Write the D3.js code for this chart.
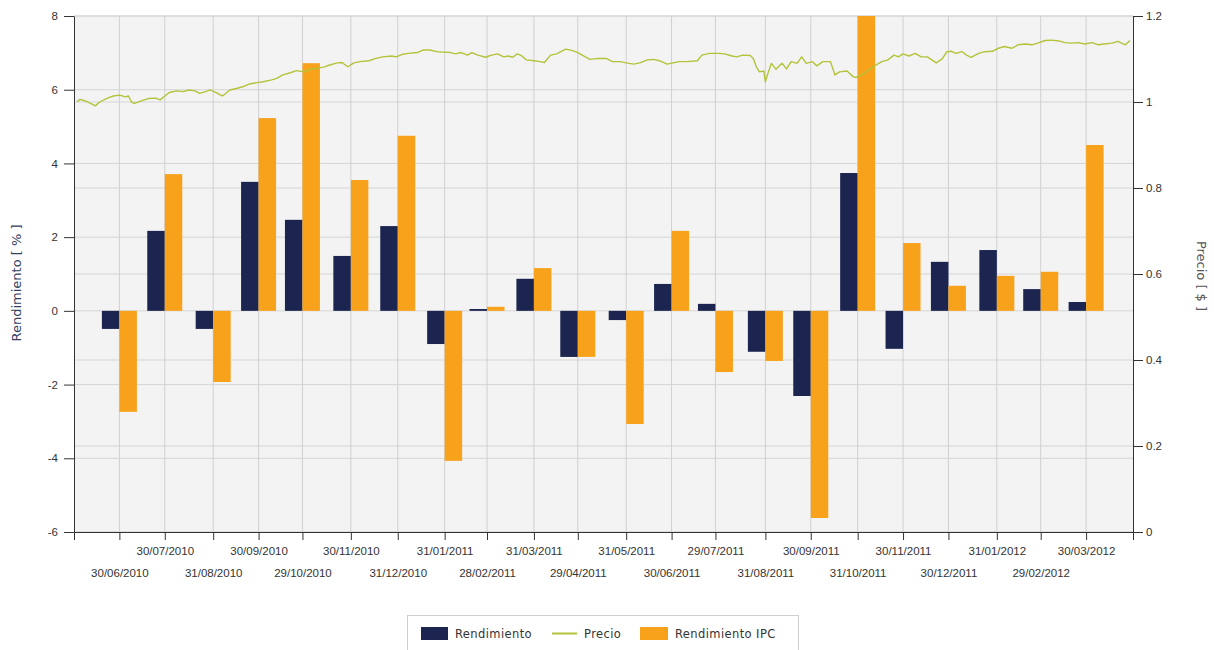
<!DOCTYPE html>
<html>
<head>
<meta charset="utf-8">
<script src="https://cdn.jsdelivr.net/npm/d3@7"></script>
<style>
  body { margin: 0; background: #fff; }
</style>
</head>
<body>
<div id="chart"></div>
<script>
// month-end dates of the bars / x ticks
var fechas = ["30/06/2010", "30/07/2010", "31/08/2010", "30/09/2010", "29/10/2010", "30/11/2010",
  "31/12/2010", "31/01/2011", "28/02/2011", "31/03/2011", "29/04/2011", "31/05/2011",
  "30/06/2011", "29/07/2011", "31/08/2011", "30/09/2011", "31/10/2011", "30/11/2011",
  "30/12/2011", "31/01/2012", "29/02/2012", "30/03/2012"];

var rendimiento = [-0.49, 2.17, -0.49, 3.50, 2.47, 1.49, 2.30, -0.90, 0.05, 0.87, -1.25, -0.25,
  0.73, 0.19, -1.11, -2.31, 3.74, -1.03, 1.33, 1.65, 0.59, 0.24];

var rendimientoIPC = [-2.74, 3.71, -1.93, 5.23, 6.72, 3.55, 4.75, -4.07, 0.11, 1.16, -1.25, -3.07,
  2.17, -1.66, -1.36, -5.62, 8.40, 1.84, 0.68, 0.95, 1.06, 4.50];

var precio = [
  ["2010-06-02", 1.001], ["2010-06-04", 1.006], ["2010-06-07", 1.003], ["2010-06-11", 0.997], ["2010-06-14", 0.991],
  ["2010-06-17", 1.000], ["2010-06-22", 1.009], ["2010-06-26", 1.014], ["2010-06-30", 1.016], ["2010-07-04", 1.012],
  ["2010-07-06", 1.014], ["2010-07-08", 1.000], ["2010-07-10", 0.997], ["2010-07-15", 1.003], ["2010-07-19", 1.008],
  ["2010-07-24", 1.009], ["2010-07-27", 1.005], ["2010-07-30", 1.014], ["2010-08-02", 1.022], ["2010-08-07", 1.026],
  ["2010-08-11", 1.024], ["2010-08-15", 1.028], ["2010-08-19", 1.026], ["2010-08-22", 1.020], ["2010-08-26", 1.024],
  ["2010-08-29", 1.028], ["2010-09-02", 1.022], ["2010-09-06", 1.014], ["2010-09-08", 1.019], ["2010-09-11", 1.028],
  ["2010-09-16", 1.032], ["2010-09-20", 1.036], ["2010-09-24", 1.042], ["2010-09-29", 1.045], ["2010-10-03", 1.047],
  ["2010-10-08", 1.051], ["2010-10-12", 1.055], ["2010-10-16", 1.063], ["2010-10-21", 1.068], ["2010-10-25", 1.073],
  ["2010-10-30", 1.070], ["2010-11-03", 1.076], ["2010-11-12", 1.081], ["2010-11-16", 1.086], ["2010-11-21", 1.091],
  ["2010-11-24", 1.092], ["2010-11-28", 1.082], ["2010-12-02", 1.091], ["2010-12-06", 1.094], ["2010-12-12", 1.096],
  ["2010-12-16", 1.101], ["2010-12-21", 1.105], ["2010-12-27", 1.107], ["2010-12-30", 1.105], ["2011-01-03", 1.111],
  ["2011-01-07", 1.113], ["2011-01-13", 1.115], ["2011-01-17", 1.121], ["2011-01-21", 1.121], ["2011-01-26", 1.117],
  ["2011-01-30", 1.116], ["2011-02-04", 1.115], ["2011-02-07", 1.112], ["2011-02-11", 1.115], ["2011-02-15", 1.109],
  ["2011-02-18", 1.115], ["2011-02-22", 1.109], ["2011-02-27", 1.104], ["2011-03-03", 1.109], ["2011-03-07", 1.112],
  ["2011-03-11", 1.105], ["2011-03-14", 1.107], ["2011-03-17", 1.104], ["2011-03-20", 1.112], ["2011-03-23", 1.107],
  ["2011-03-26", 1.098], ["2011-03-31", 1.096], ["2011-04-04", 1.094], ["2011-04-07", 1.092], ["2011-04-11", 1.109],
  ["2011-04-15", 1.112], ["2011-04-21", 1.123], ["2011-04-25", 1.120], ["2011-04-29", 1.115], ["2011-05-04", 1.105],
  ["2011-05-07", 1.099], ["2011-05-11", 1.101], ["2011-05-14", 1.101], ["2011-05-18", 1.101], ["2011-05-22", 1.094],
  ["2011-05-27", 1.094], ["2011-05-31", 1.091], ["2011-06-05", 1.088], ["2011-06-09", 1.091], ["2011-06-14", 1.098],
  ["2011-06-18", 1.099], ["2011-06-22", 1.096], ["2011-06-27", 1.088], ["2011-07-01", 1.091], ["2011-07-05", 1.094],
  ["2011-07-10", 1.094], ["2011-07-17", 1.096], ["2011-07-20", 1.109], ["2011-07-25", 1.113], ["2011-07-31", 1.113],
  ["2011-08-04", 1.112], ["2011-08-09", 1.107], ["2011-08-12", 1.105], ["2011-08-16", 1.109], ["2011-08-21", 1.108],
  ["2011-08-23", 1.101], ["2011-08-25", 1.082], ["2011-08-27", 1.070], ["2011-08-30", 1.072], ["2011-08-31", 1.047],
  ["2011-09-02", 1.070], ["2011-09-04", 1.090], ["2011-09-07", 1.076], ["2011-09-11", 1.090], ["2011-09-14", 1.077],
  ["2011-09-17", 1.094], ["2011-09-21", 1.090], ["2011-09-24", 1.105], ["2011-09-27", 1.090], ["2011-10-01", 1.094],
  ["2011-10-04", 1.084], ["2011-10-08", 1.094], ["2011-10-13", 1.094], ["2011-10-16", 1.063], ["2011-10-19", 1.070],
  ["2011-10-24", 1.072], ["2011-10-28", 1.059], ["2011-10-30", 1.057], ["2011-11-05", 1.068], ["2011-11-11", 1.084],
  ["2011-11-16", 1.094], ["2011-11-20", 1.098], ["2011-11-24", 1.109], ["2011-11-27", 1.105], ["2011-11-30", 1.112],
  ["2011-12-04", 1.107], ["2011-12-08", 1.113], ["2011-12-12", 1.105], ["2011-12-16", 1.105], ["2011-12-19", 1.098],
  ["2011-12-22", 1.091], ["2011-12-26", 1.101], ["2011-12-29", 1.117], ["2012-01-01", 1.118], ["2012-01-04", 1.113],
  ["2012-01-08", 1.117], ["2012-01-11", 1.109], ["2012-01-14", 1.104], ["2012-01-19", 1.113], ["2012-01-23", 1.117],
  ["2012-01-28", 1.118], ["2012-02-01", 1.125], ["2012-02-05", 1.129], ["2012-02-10", 1.125], ["2012-02-14", 1.133],
  ["2012-02-19", 1.135], ["2012-02-23", 1.133], ["2012-02-27", 1.137], ["2012-03-03", 1.143], ["2012-03-07", 1.144],
  ["2012-03-12", 1.142], ["2012-03-16", 1.138], ["2012-03-20", 1.137], ["2012-03-25", 1.138], ["2012-03-29", 1.135],
  ["2012-04-03", 1.138], ["2012-04-07", 1.133], ["2012-04-11", 1.135], ["2012-04-16", 1.137], ["2012-04-20", 1.141],
  ["2012-04-25", 1.133], ["2012-04-28", 1.143]
];

var ticksRend = [-6, -4, -2, 0, 2, 4, 6, 8];
var ticksPrecio = [0, 0.2, 0.4, 0.6, 0.8, 1, 1.2];
var rangoFechas = ["2010-05-31", "2012-04-30"];

var colRend = "#1b2550", colIPC = "#f8a21c", colPrecio = "#b4c33a";

var margin = { top: 16, right: 81, bottom: 118, left: 74 },
  width = 1214 - margin.left - margin.right,
  height = 650 - margin.top - margin.bottom;

var svg = d3.select("#chart")
  .append("svg")
  .attr("width", 1214)
  .attr("height", 650)
  .style("font-family", "'Liberation Sans', Arial, sans-serif");

var g = svg.append("g")
  .attr("transform", "translate(" + margin.left + "," + margin.top + ")");

var parseDMY = d3.utcParse("%d/%m/%Y"),
  parseISO = d3.utcParse("%Y-%m-%d");

var fechasD = fechas.map(parseDMY);

var x = d3.scaleUtc()
  .domain(rangoFechas.map(parseISO))
  .range([0, width]);
var yL = d3.scaleLinear().domain([-6, 8]).range([height, 0]);
var yR = d3.scaleLinear().domain([0, 1.2]).range([height, 0]);

// plot background
g.append("rect")
  .attr("width", width)
  .attr("height", height)
  .attr("fill", "#f3f3f3");

// grid lines
g.selectAll(".gl").data(ticksRend).enter().append("line")
  .attr("x1", 0).attr("x2", width)
  .attr("y1", function (d) { return yL(d); })
  .attr("y2", function (d) { return yL(d); })
  .attr("stroke", "#d5d5d5");
g.selectAll(".gr").data(ticksPrecio).enter().append("line")
  .attr("x1", 0).attr("x2", width)
  .attr("y1", function (d) { return yR(d); })
  .attr("y2", function (d) { return yR(d); })
  .attr("stroke", "#d5d5d5");
g.selectAll(".gv").data(fechasD).enter().append("line")
  .attr("x1", function (d) { return x(d); })
  .attr("x2", function (d) { return x(d); })
  .attr("y1", 0).attr("y2", height)
  .attr("stroke", "#d0d0d0");

svg.append("clipPath").attr("id", "clip")
  .append("rect").attr("width", width).attr("height", height);

var plot = g.append("g").attr("clip-path", "url(#clip)");

var barW = 17.5;

plot.selectAll(".rend").data(rendimiento).enter().append("rect")
  .attr("x", function (d, i) { return x(fechasD[i]) - barW; })
  .attr("width", barW)
  .attr("y", function (d) { return yL(Math.max(0, d)); })
  .attr("height", function (d) { return Math.abs(yL(d) - yL(0)); })
  .attr("fill", colRend);

plot.selectAll(".ipc").data(rendimientoIPC).enter().append("rect")
  .attr("x", function (d, i) { return x(fechasD[i]); })
  .attr("width", barW)
  .attr("y", function (d) { return yL(Math.max(0, d)); })
  .attr("height", function (d) { return Math.abs(yL(d) - yL(0)); })
  .attr("fill", colIPC);

var line = d3.line()
  .x(function (d) { return x(parseISO(d[0])); })
  .y(function (d) { return yR(d[1]); });

plot.append("path")
  .datum(precio)
  .attr("d", line)
  .attr("fill", "none")
  .attr("stroke", colPrecio)
  .attr("stroke-width", 1.4)
  .attr("stroke-linejoin", "round");

// axes
var fmtTick = d3.utcFormat("%d/%m/%Y");

var xAxis = g.append("g")
  .attr("transform", "translate(0," + height + ")")
  .call(d3.axisBottom(x).tickValues(fechasD).tickFormat(fmtTick).tickSize(8).tickSizeOuter(8));

xAxis.selectAll("text")
  .attr("y", function (d, i) { return i % 2 == 0 ? 37 : 15; })
  .attr("font-size", 11.5)
  .attr("fill", "#333")
  .attr("font-family", "'Liberation Sans', Arial, sans-serif");

var yAxisL = g.append("g")
  .call(d3.axisLeft(yL).tickValues(ticksRend).tickFormat(String).tickSize(10).tickSizeOuter(0).tickPadding(6));
yAxisL.selectAll("text").attr("font-size", 11.5).attr("fill", "#333")
  .attr("font-family", "'Liberation Sans', Arial, sans-serif");

var yAxisR = g.append("g")
  .attr("transform", "translate(" + width + ",0)")
  .call(d3.axisRight(yR).tickValues(ticksPrecio).tickFormat(String).tickSize(10).tickSizeOuter(0).tickPadding(3));
yAxisR.selectAll("text").attr("font-size", 11.5).attr("fill", "#333")
  .attr("font-family", "'Liberation Sans', Arial, sans-serif");

svg.selectAll(".domain, .tick line").attr("stroke", "#333");

// axis titles
svg.append("text")
  .attr("transform", "translate(21,283) rotate(-90)")
  .attr("text-anchor", "middle")
  .attr("font-family", "'DejaVu Sans', sans-serif")
  .attr("font-size", 13)
  .attr("fill", "#34405e")
  .text("Rendimiento  [ % ]");

svg.append("text")
  .attr("transform", "translate(1197,276) rotate(90)")
  .attr("text-anchor", "middle")
  .attr("font-family", "'DejaVu Sans', sans-serif")
  .attr("font-size", 13)
  .attr("fill", "#555")
  .text("Precio  [ $ ]");

// legend
var leg = svg.append("g").attr("transform", "translate(407,615)");
leg.append("rect")
  .attr("x", 0.5).attr("y", 0.5)
  .attr("width", 391).attr("height", 40)
  .attr("fill", "#fff")
  .attr("stroke", "#cfcfcf");

var legItems = [
  { name: "Rendimiento", color: colRend, tipo: "bar", x: 14, w: 27 },
  { name: "Precio", color: colPrecio, tipo: "line", x: 145, w: 25 },
  { name: "Rendimiento IPC", color: colIPC, tipo: "bar", x: 233, w: 28 }
];

legItems.forEach(function (it) {
  if (it.tipo == "bar") {
    leg.append("rect")
      .attr("x", it.x).attr("y", 12)
      .attr("width", it.w).attr("height", 13)
      .attr("fill", it.color);
  } else {
    leg.append("line")
      .attr("x1", it.x).attr("x2", it.x + it.w)
      .attr("y1", 18.5).attr("y2", 18.5)
      .attr("stroke", it.color)
      .attr("stroke-width", 2);
  }
  leg.append("text")
    .attr("x", it.x + it.w + 7)
    .attr("y", 23)
    .attr("font-family", "'DejaVu Sans', sans-serif")
    .attr("font-size", 11.5)
    .attr("letter-spacing", 0.4)
    .attr("fill", "#333")
    .text(it.name);
});
</script>
</body>
</html>
